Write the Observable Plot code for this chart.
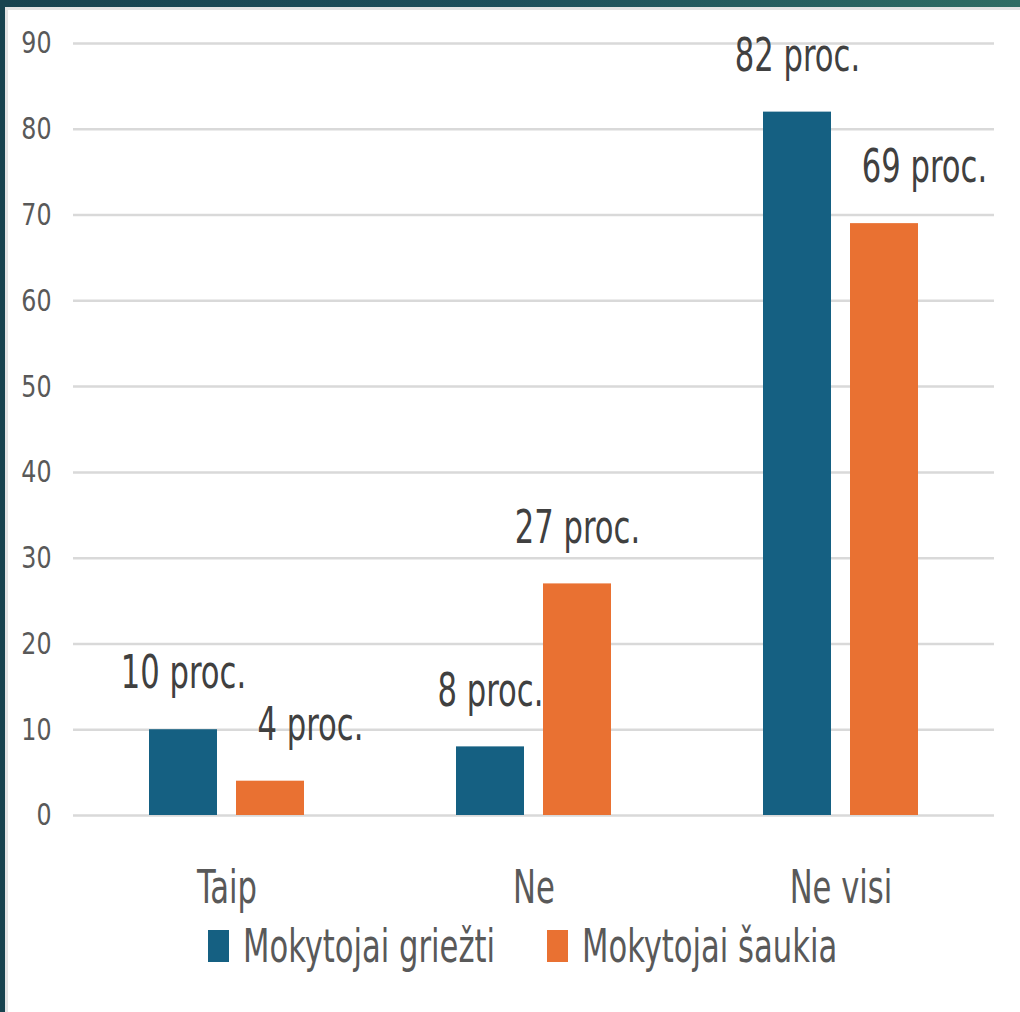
<!DOCTYPE html>
<html>
<head>
<meta charset="utf-8">
<script src="https://cdn.jsdelivr.net/npm/d3@7"></script>
<script src="https://cdn.jsdelivr.net/npm/@observablehq/plot@0.6"></script>
<style>
  html, body { margin: 0; padding: 0; }
  body {
    width: 1020px; height: 1012px; position: relative; overflow: hidden;
    background: linear-gradient(90deg, #18434f 0%, #1d4f5b 50%, #2f6d64 100%);
    font-family: "DejaVu Sans Condensed", "Roboto", sans-serif;
  }
  #panel {
    position: absolute; left: 8px; top: 10px; width: 1012px; height: 1002px;
    background: #fff; box-shadow: -1px -1px 0 2px #e4e4e4;
  }
  #legend {
    display: flex; justify-content: flex-start; align-items: center;
    height: 62px; gap: 52px; padding-left: 200px;
    font-size: 46px; color: #595959;
  }
  .item { display: flex; align-items: center; gap: 14px; }
  .sw { width: 21px; height: 32px; display: inline-block; flex: none; }
  .txtwrap { display: inline-block; white-space: nowrap; overflow: visible; }
  .txt { display: inline-block; transform-origin: 0 50%; white-space: nowrap; }
</style>
</head>
<body>
<div id="panel"><div id="chart"></div><div id="legend"></div></div>
<script>
const categories = ["Taip", "Ne", "Ne visi"];
const series = ["Mokytojai griežti", "Mokytojai šaukia"];
const strictValues = [10, 8, 82];   // Mokytojai griežti
const shoutValues = [4, 27, 69];    // Mokytojai šaukia
const yTicks = [0, 10, 20, 30, 40, 50, 60, 70, 80, 90];
const colors = ["#156082", "#E97132"];

const data = [];
categories.forEach((c, i) => {
  data.push({category: c, series: series[0], value: strictValues[i]});
  data.push({category: c, series: series[1], value: shoutValues[i]});
});
const label = d => `${d.value} proc.`;
// labels that the original slide nudged to the right
const nudged = d => d.series === series[1] && (d.category === "Taip" || d.category === "Ne visi");

const font = `"DejaVu Sans Condensed", "Roboto", sans-serif`;
const SQUEEZE = 0.74;

const chart = Plot.plot({
  width: 1012,
  height: 905,
  marginLeft: 64,
  marginRight: 26,
  marginTop: 33,
  marginBottom: 100,
  style: {fontFamily: font, background: "transparent", overflow: "visible"},
  fx: {domain: categories, padding: 0, label: null},
  x: {domain: series, paddingInner: 0.22, paddingOuter: 0.86, axis: null},
  y: {domain: [0, 90], label: null},
  color: {domain: series, range: colors},
  marks: [
    Plot.ruleY(yTicks, {y: d => d, stroke: "#d9d9d9", strokeWidth: 2.5}),
    Plot.barY(data, {fx: "category", x: "series", y: "value", fill: "series"}),
    Plot.text(data.filter(d => !nudged(d)), {
      fx: "category", x: "series", y: "value", text: label,
      lineAnchor: "middle", dy: -56, fontSize: 46, fill: "#404040"
    }),
    Plot.text(data.filter(nudged), {
      fx: "category", x: "series", y: "value", text: label,
      lineAnchor: "middle", dy: -56, dx: 40, fontSize: 46, fill: "#404040"
    }),
    Plot.axisY({ticks: yTicks, tickSize: 0, tickPadding: 22, fontSize: 31, color: "#595959", label: null}),
    Plot.axisFx({anchor: "bottom", tickSize: 0, tickPadding: 55, fontSize: 46, color: "#595959", label: null})
  ]
});
document.getElementById("chart").appendChild(chart);

// narrow the glyphs to mimic the condensed typeface of the original
chart.querySelectorAll("text").forEach(t => {
  const isY = t.closest('[aria-label="y-axis tick label"]');
  const f = isY ? 0.85 : SQUEEZE;
  const len = t.getComputedTextLength();
  if (len > 0) {
    t.setAttribute("textLength", (len * f).toFixed(1));
    t.setAttribute("lengthAdjust", "spacingAndGlyphs");
  }
});

const legend = document.getElementById("legend");
series.forEach((s, i) => {
  const item = document.createElement("div");
  item.className = "item";
  const sw = document.createElement("span");
  sw.className = "sw";
  sw.style.background = colors[i];
  const wrap = document.createElement("span");
  wrap.className = "txtwrap";
  const t = document.createElement("span");
  t.className = "txt";
  t.textContent = s;
  wrap.appendChild(t);
  item.appendChild(sw);
  item.appendChild(wrap);
  legend.appendChild(item);
  const w = t.getBoundingClientRect().width;
  t.style.transform = `scaleX(${SQUEEZE})`;
  wrap.style.width = (w * SQUEEZE).toFixed(1) + "px";
});
</script>
</body>
</html>
